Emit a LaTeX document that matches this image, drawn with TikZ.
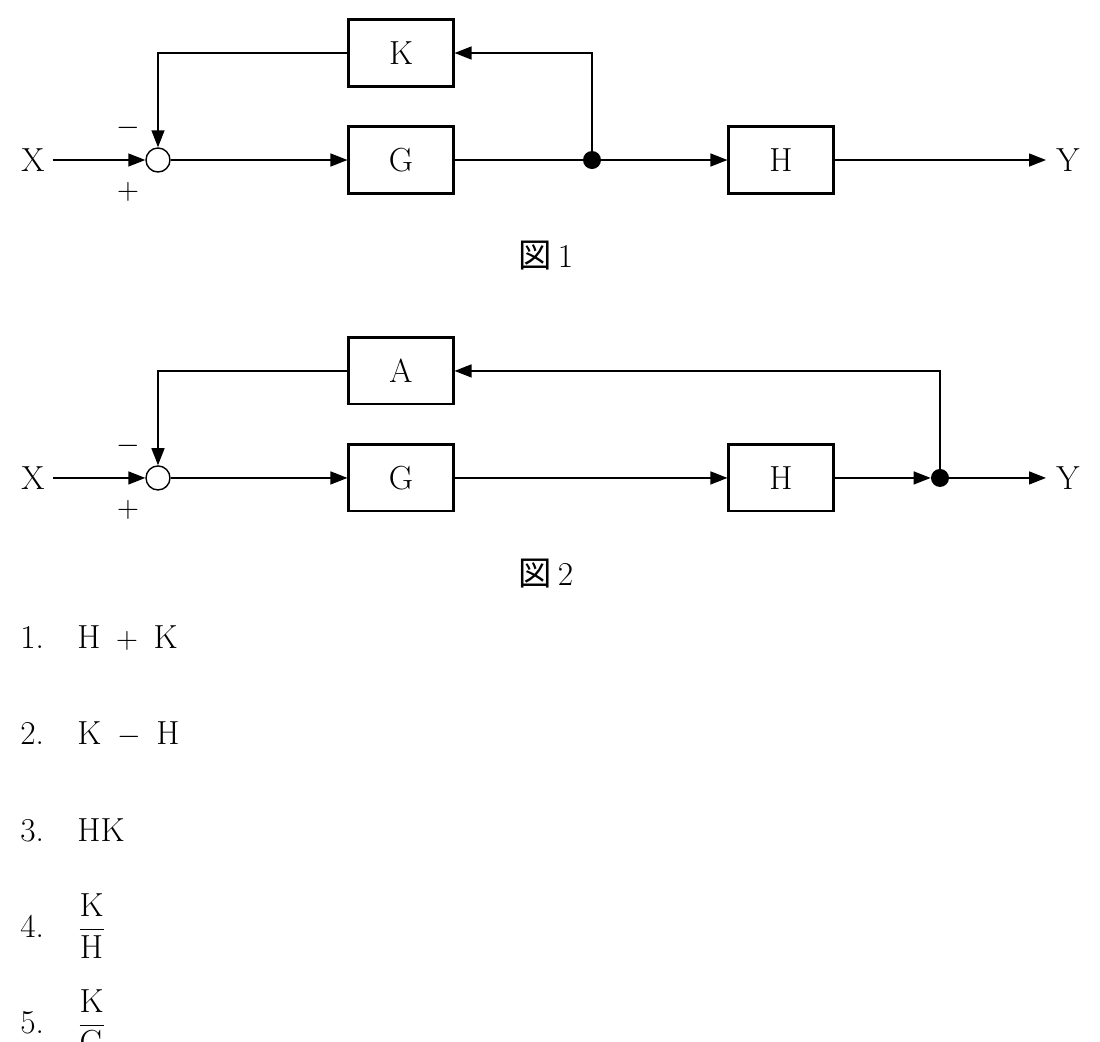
\documentclass[tikz,border=0pt]{standalone}
\usepackage{amsmath}
\usepackage{fontspec}
\newfontfamily\cjk{Noto Sans CJK JP}
\usetikzlibrary{arrows.meta}
\tikzset{
  blk/.style={draw,line width=1.2pt,minimum width=2.1cm,minimum height=1.34cm,inner sep=0pt},
  sig/.style={line width=0.8pt,-{Triangle[length=0.34cm,width=0.26cm]}},
  ln/.style={line width=0.8pt},
  txt/.style={inner sep=0pt,font=\fontsize{19}{23}\selectfont},
}
\begin{document}
\begin{tikzpicture}[x=0.02cm,y=-0.02cm]
\useasboundingbox (0,0) rectangle (1100,1042);
% figure 1
\begin{scope}
\node[txt] (x1) at (33,160) {X};
\node[draw,circle,minimum size=0.48cm,inner sep=0pt,line width=0.8pt] (s1) at (158,160) {};
\node[txt] at (128,128) {$-$};
\node[txt] at (128,192) {$+$};
\node[blk,txt] (k1) at (401,53) {K};
\node[blk,txt] (g1) at (401,160) {G};
\node[blk,txt] (h1) at (781,160) {H};
\node[circle,fill,minimum size=0.36cm,inner sep=0pt] (d1) at (592,160) {};
\node[txt] (y1) at (1068,160) {Y};
\coordinate (e1) at (1046,160);
\draw[sig] (x1.east)++(8,0) -- (s1);
\draw[sig] (s1) -- (g1);
\draw[ln] (g1) -- (d1);
\draw[sig] (d1) -- (h1);
\draw[sig] (h1) -- (e1);
\draw[sig] (d1) |- (k1);
\draw[sig] (k1) -| (s1);
\node[txt] at (546,256) {{\cjk 図}\,1};
\end{scope}
% figure 2
\begin{scope}[yshift=-6.36cm]
\node[txt] (x2) at (33,160) {X};
\node[draw,circle,minimum size=0.48cm,inner sep=0pt,line width=0.8pt] (s2) at (158,160) {};
\node[txt] at (128,128) {$-$};
\node[txt] at (128,192) {$+$};
\node[blk,txt] (a2) at (401,53) {A};
\node[blk,txt] (g2) at (401,160) {G};
\node[blk,txt] (h2) at (781,160) {H};
\node[circle,fill,minimum size=0.36cm,inner sep=0pt] (d2) at (940,160) {};
\node[txt] (y2) at (1068,160) {Y};
\coordinate (e2) at (1046,160);
\draw[sig] (x2.east)++(8,0) -- (s2);
\draw[sig] (s2) -- (g2);
\draw[sig] (g2) -- (h2);
\draw[sig] (h2) -- (d2);
\draw[sig] (d2) -- (e2);
\draw[sig] (d2) |- (a2);
\draw[sig] (a2) -| (s2);
\node[txt] at (546,256) {{\cjk 図}\,2};
\end{scope}
% choices
\node[txt,anchor=west] (c1) at (20,638) {1.\quad H\, $+$\, K};
\node[txt,anchor=west] (c2) at (20,734) {2.\quad K\, $-$\, H};
\node[txt,anchor=west] (c3) at (20,830) {3.\quad HK};
\node[txt,anchor=west] (c4) at (20,926) {4.\quad $\dfrac{\mathrm{K}}{\mathrm{H}}$};
\node[txt,anchor=west] (c5) at (20,1022) {5.\quad $\dfrac{\mathrm{K}}{\mathrm{G}}$};
\end{tikzpicture}
\end{document}
